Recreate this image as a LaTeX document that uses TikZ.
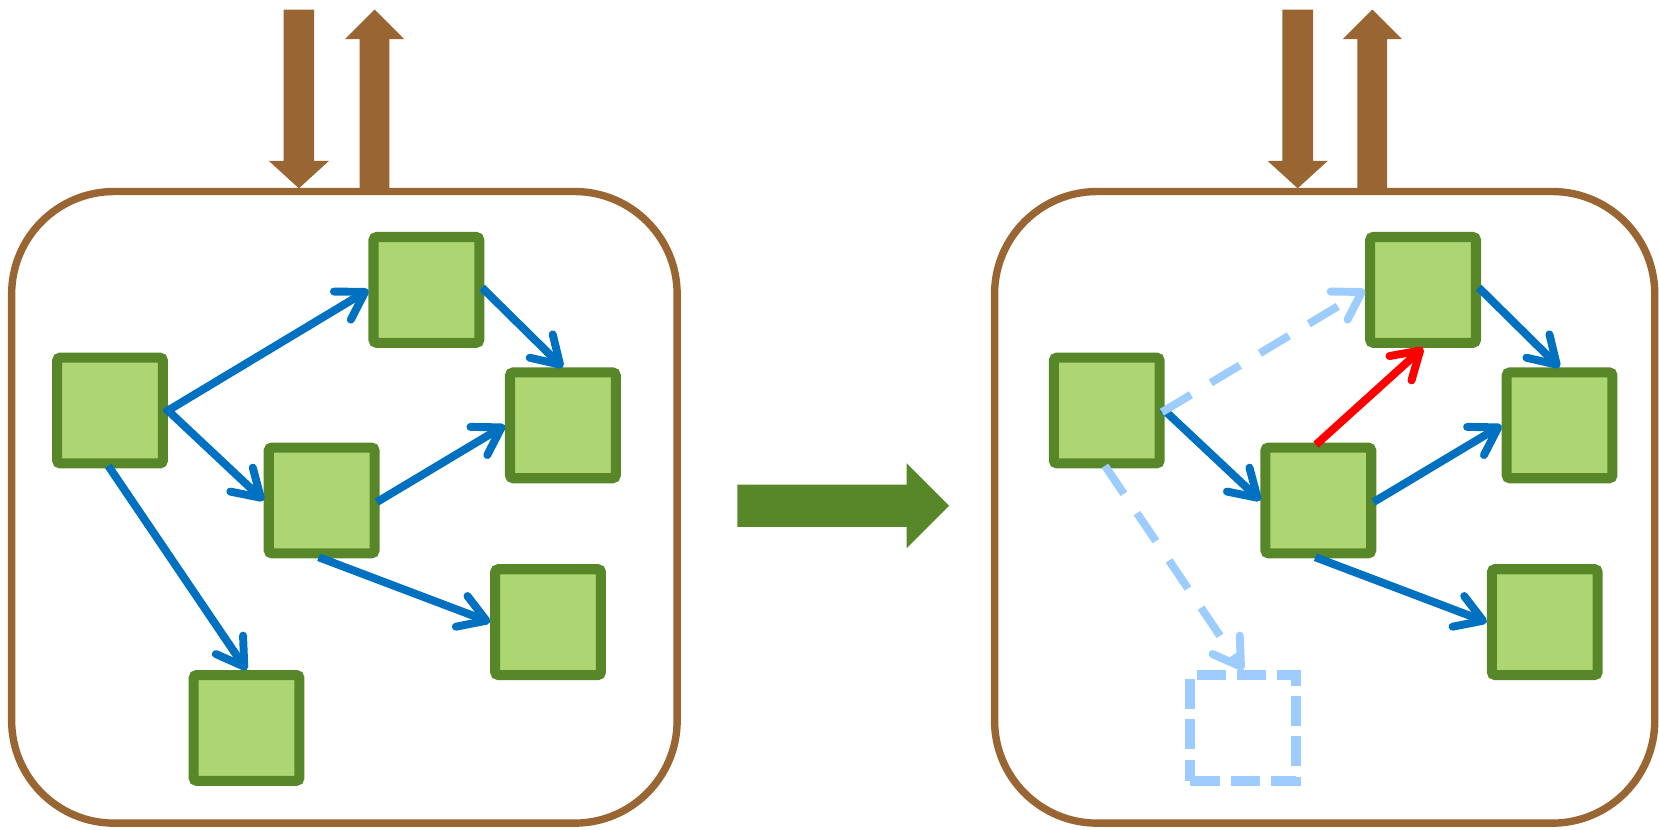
\documentclass[tikz,border=0pt]{standalone}
\usetikzlibrary{arrows.meta}
\definecolor{brownc}{RGB}{153,102,51}
\definecolor{greenb}{RGB}{88,135,42}
\definecolor{greenf}{RGB}{173,214,115}
\definecolor{bluec}{RGB}{0,112,192}
\definecolor{lblue}{RGB}{157,204,255}
\definecolor{redc}{RGB}{255,0,0}
\begin{document}
\begin{tikzpicture}[x=1pt,y=-1pt,
  sq/.style={draw=greenb, fill=greenf, line width=9.5pt, minimum size=100pt, rounded corners=3pt, inner sep=0pt},
  dsq/.style={draw=lblue, line width=9.5pt, minimum size=100pt, dash pattern=on 28pt off 10pt, inner sep=0pt},
  container/.style={draw=brownc, line width=7pt, rounded corners=97pt},
  conn/.style={draw=bluec, line width=7.5pt, shorten <=-3pt, -{Straight Barb[length=25pt,width=31pt,round]}},
  ghost/.style={conn, draw=lblue, dash pattern=on 32pt off 22pt},
  changed/.style={conn, draw=redc},
  io/.style={fill=brownc},
  bigarrow/.style={fill=greenb},
]
\useasboundingbox (0,0) rectangle (1568,784);
% containers
\draw[container] (11,181) rectangle (640,778);
\draw[container] (940,181) rectangle (1564,778);
% in/out arrows
\fill[io] (268,9) -- (297,9) -- (297,152) -- (311,152) -- (282.5,178) -- (254,152) -- (268,152) -- cycle;
\fill[io] (340,181) -- (340,37) -- (326,37) -- (354,9) -- (382,37) -- (368,37) -- (368,181) -- cycle;
\fill[io] (1212,9) -- (1241,9) -- (1241,152) -- (1255,152) -- (1226.5,178) -- (1198,152) -- (1212,152) -- cycle;
\fill[io] (1283,181) -- (1283,37) -- (1269,37) -- (1297,9) -- (1325,37) -- (1311,37) -- (1311,181) -- cycle;
% transition arrow
\fill[bigarrow] (697,458) -- (857,458) -- (857,438) -- (897,478) -- (857,518) -- (857,498) -- (697,498) -- cycle;
% left panel
\node[sq] (A) at (104,388) {};
\node[sq] (B) at (403,274) {};
\node[sq] (C) at (532,402) {};
\node[sq] (D) at (304,473) {};
\node[sq] (E) at (518,588) {};
\node[sq] (F) at (233,688) {};
\draw[conn] (A.east) -- (B.west);
\draw[conn] (A.east) -- (D.west);
\draw[conn] (A.south) -- (F.north);
\draw[conn] (B.east) -- (C.north);
\draw[conn] (D.east) -- (C.west);
\draw[conn] (D.south) -- (E.west);
% right panel
\node[sq] (A2) at (1046,388) {};
\node[sq] (B2) at (1345,274) {};
\node[sq] (C2) at (1474,402) {};
\node[sq] (D2) at (1246,473) {};
\node[sq] (E2) at (1460,588) {};
\node[dsq] (F2) at (1175,688) {};
\draw[conn] (A2.east) -- (D2.west);
\draw[ghost] (A2.east) -- (B2.west);
\draw[ghost] (A2.south) -- (F2.north);
\draw[conn] (B2.east) -- (C2.north);
\draw[conn] (D2.east) -- (C2.west);
\draw[conn] (D2.south) -- (E2.west);
\draw[changed] (D2.north) -- (B2.south);
\end{tikzpicture}
\end{document}
